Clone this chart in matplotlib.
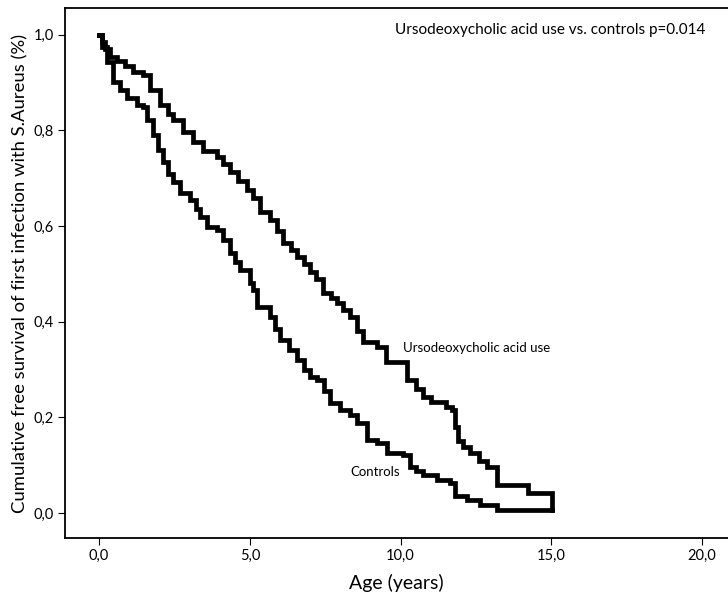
import matplotlib
matplotlib.use('Agg')
import matplotlib.pyplot as plt
from matplotlib.ticker import FuncFormatter

plt.rcParams['font.family'] = ['Lato', 'DejaVu Sans']

# Kaplan-Meier curves (years, survival)
udca_t = [0, 0.1, 0.2, 0.36, 0.6, 0.85, 1.13, 1.46, 1.7, 2.02, 2.3, 2.45, 2.79, 3.1, 3.45,
          3.91, 4.1, 4.34, 4.6, 4.9, 5.1, 5.34, 5.67, 5.9, 6.1, 6.35, 6.57, 6.8, 7.0, 7.2,
          7.43, 7.7, 7.89, 8.1, 8.32, 8.55, 8.76, 9.22, 9.5, 10.2, 10.5, 10.75, 11.0, 11.5,
          11.7, 11.8, 11.9, 12.07, 12.3, 12.6, 12.87, 13.2, 14.23, 15.02]
udca_s = [1.0, 0.985, 0.97, 0.954, 0.945, 0.935, 0.923, 0.916, 0.885, 0.854, 0.835, 0.822,
          0.797, 0.775, 0.757, 0.745, 0.73, 0.713, 0.695, 0.676, 0.659, 0.63, 0.613, 0.59,
          0.565, 0.55, 0.536, 0.52, 0.505, 0.49, 0.46, 0.45, 0.44, 0.425, 0.41, 0.38, 0.358,
          0.347, 0.316, 0.278, 0.26, 0.243, 0.232, 0.222, 0.215, 0.18, 0.15, 0.138, 0.125,
          0.11, 0.096, 0.059, 0.042, 0.006]

ctrl_t = [0, 0.1, 0.26, 0.46, 0.7, 0.93, 1.26, 1.46, 1.6, 1.79, 1.95, 2.12, 2.3, 2.45, 2.69,
          3.02, 3.2, 3.35, 3.58, 3.91, 4.1, 4.34, 4.5, 4.68, 5.0, 5.1, 5.24, 5.67, 5.85, 6.0,
          6.3, 6.57, 6.8, 7.0, 7.23, 7.45, 7.66, 8.0, 8.32, 8.56, 8.89, 9.22, 9.55, 10.08,
          10.3, 10.5, 10.75, 11.2, 11.64, 11.8, 12.2, 12.64, 13.2, 15.02]
ctrl_s = [1.0, 0.975, 0.944, 0.902, 0.885, 0.868, 0.854, 0.849, 0.822, 0.79, 0.76, 0.734,
          0.71, 0.692, 0.669, 0.655, 0.635, 0.619, 0.598, 0.592, 0.57, 0.544, 0.525, 0.508,
          0.481, 0.467, 0.431, 0.41, 0.385, 0.362, 0.34, 0.32, 0.3, 0.285, 0.278, 0.255,
          0.23, 0.215, 0.205, 0.188, 0.153, 0.146, 0.126, 0.121, 0.096, 0.088, 0.08, 0.069,
          0.063, 0.036, 0.027, 0.017, 0.006, 0.006]

xticks = [0, 5, 10, 15, 20]
yticks = [0.0, 0.2, 0.4, 0.6, 0.8, 1.0]

fig = plt.figure(figsize=(7.28, 5.92), dpi=100)
ax = fig.add_axes([0.0893, 0.0912, 0.9107, 0.8953])

ax.plot(udca_t, udca_s, drawstyle='steps-post', color='black', lw=3.4, solid_joinstyle='miter')
ax.plot(ctrl_t, ctrl_s, drawstyle='steps-post', color='black', lw=3.4, solid_joinstyle='miter')

ax.set_xlim(-1.13, 20.86)
ax.set_ylim(-0.052, 1.056)
ax.set_xticks(xticks)
ax.set_yticks(yticks)
fmt = FuncFormatter(lambda v, p: f'{v:.1f}'.replace('.', ','))
ax.xaxis.set_major_formatter(fmt)
ax.yaxis.set_major_formatter(fmt)
ax.tick_params(direction='out', length=5, width=0.8, labelsize=10.5, pad=3)
ax.spines['right'].set_visible(False)
for s in ['left', 'bottom', 'top']:
    ax.spines[s].set_linewidth(1.3)

ax.set_xlabel('Age (years)', fontsize=14, labelpad=8)
ax.set_ylabel('Cumulative free survival of first infection with S.Aureus (%)', fontsize=13.3, labelpad=4)

ax.text(9.82, 1.01, 'Ursodeoxycholic acid use vs. controls p=0.014', fontsize=11, va='center', ha='left')
ax.text(10.08, 0.345, 'Ursodeoxycholic acid use', fontsize=9.5, va='center', ha='left')
ax.text(8.32, 0.086, 'Controls', fontsize=9.5, va='center', ha='left')

fig.savefig('out.png', dpi=100)
